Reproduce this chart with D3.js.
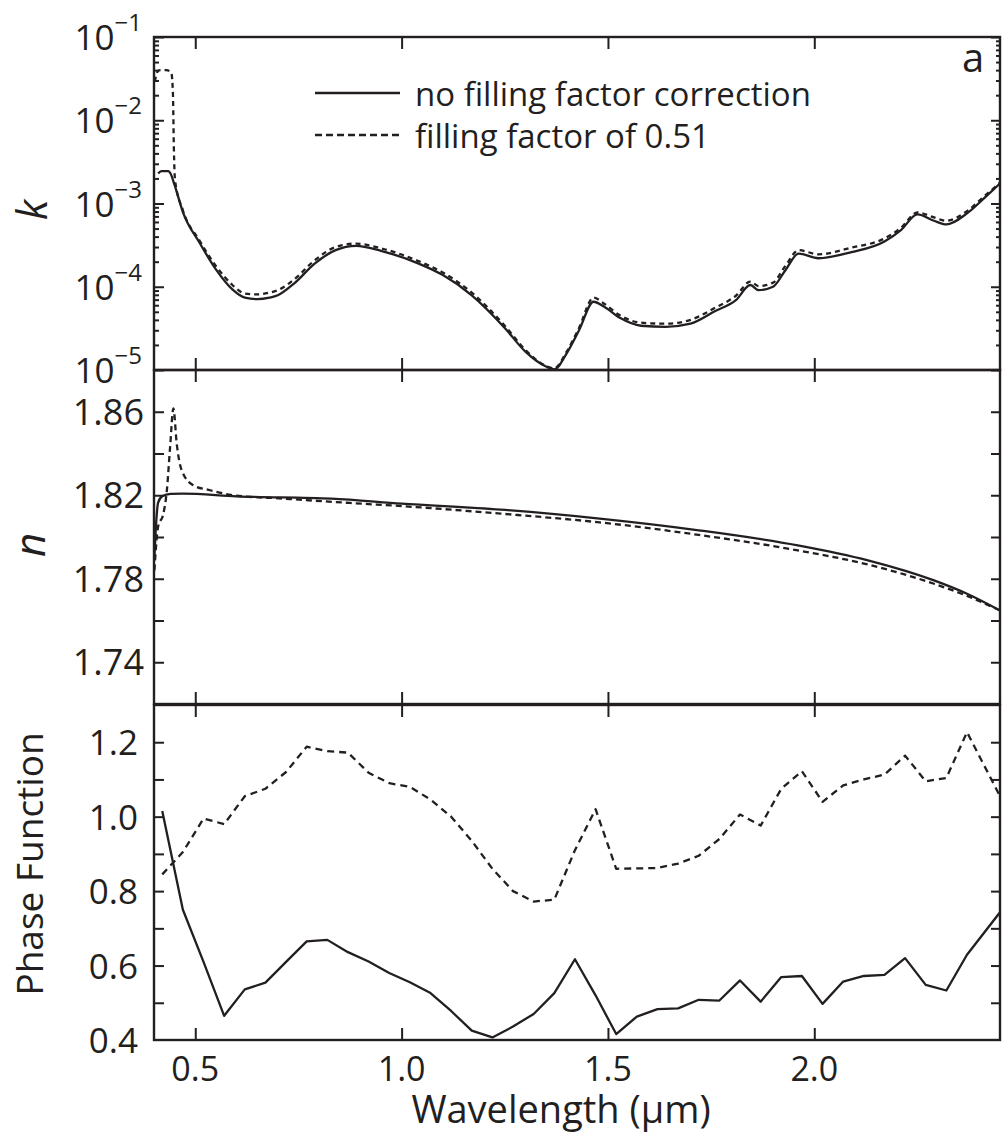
<!DOCTYPE html>
<html><head><meta charset="utf-8">
<script src="https://cdn.jsdelivr.net/npm/d3@7"></script>
<style>
html,body{margin:0;padding:0;background:#fff;}
svg{display:block;}
text{font-family:"Open Sans",sans-serif;fill:#231f20;}
</style></head><body>
<svg id="chart" width="1004" height="1136"></svg>
<script>
// ---- Imaginary index k (log scale) ----
const kWlSolid = [0.410,0.418,0.435,0.440,0.450,0.470,0.510,0.550,0.590,0.620,0.650,0.680,0.700,0.740,0.790,0.840,0.890,0.950,1.040,1.100,1.170,1.250,1.300,1.350,1.370,1.400,1.430,1.465,1.490,1.530,1.580,1.640,1.700,1.760,1.810,1.845,1.865,1.900,1.930,1.962,2.010,2.090,2.170,2.210,2.250,2.290,2.320,2.370,2.415,2.450];
const kSolid = [2.29e-3,2.45e-3,2.45e-3,2.29e-3,1.66e-3,7.9e-4,3.4e-4,1.62e-4,9.3e-5,7.4e-5,7.1e-5,7.4e-5,7.9e-5,1.10e-4,1.91e-4,2.75e-4,3.1e-4,2.7e-4,1.91e-4,1.38e-4,7.9e-5,3.2e-5,1.66e-5,1.10e-5,1.02e-5,1.58e-5,3.0e-5,6.6e-5,5.8e-5,4.2e-5,3.4e-5,3.3e-5,3.6e-5,5.1e-5,6.9e-5,1.05e-4,9.1e-5,1.0e-4,1.58e-4,2.5e-4,2.2e-4,2.6e-4,3.5e-4,4.8e-4,7.4e-4,6.2e-4,5.6e-4,7.6e-4,1.20e-3,1.74e-3];

const kWlDashed = [0.402,0.408,0.415,0.430,0.442,0.446,0.448,0.451,0.470,0.510,0.550,0.590,0.620,0.650,0.680,0.700,0.740,0.790,0.840,0.890,0.950,1.040,1.100,1.170,1.250,1.300,1.350,1.370,1.400,1.430,1.465,1.490,1.530,1.580,1.640,1.700,1.760,1.810,1.845,1.865,1.900,1.930,1.962,2.010,2.090,2.170,2.210,2.250,2.290,2.320,2.370,2.415,2.450];
const kDashed = [2.9e-2,3.8e-2,4.0e-2,4.0e-2,3.7e-2,2.0e-2,5.0e-3,1.9e-3,8.3e-4,3.6e-4,1.78e-4,1.05e-4,8.3e-5,8.1e-5,8.5e-5,9.1e-5,1.23e-4,2.09e-4,3.0e-4,3.3e-4,2.9e-4,2.04e-4,1.48e-4,8.5e-5,3.4e-5,1.74e-5,1.12e-5,1.05e-5,1.66e-5,3.2e-5,7.4e-5,6.3e-5,4.5e-5,3.7e-5,3.6e-5,4.0e-5,5.6e-5,7.8e-5,1.15e-4,1.02e-4,1.12e-4,1.78e-4,2.75e-4,2.45e-4,2.95e-4,3.8e-4,5.1e-4,7.8e-4,6.8e-4,6.2e-4,8.1e-4,1.26e-3,1.78e-3];

// ---- Real index n ----
const nWlSolid = [0.401,0.405,0.410,0.420,0.440,0.470,0.600,0.830,1.000,1.240,1.480,1.720,1.960,2.130,2.290,2.370,2.450];
const nSolid = [1.790,1.806,1.8165,1.8195,1.8207,1.8208,1.8195,1.8184,1.8160,1.8131,1.8088,1.8032,1.7960,1.7888,1.7792,1.7728,1.7648];
const nWlDashed = [0.401,0.410,0.4225,0.431,0.439,0.447,0.455,0.467,0.495,0.536,0.592,0.713,0.875,1.000,1.240,1.480,1.720,1.960,2.130,2.290,2.370,2.450];
const nDashed = [1.784,1.805,1.811,1.822,1.843,1.8616,1.8448,1.832,1.8248,1.8224,1.8200,1.8184,1.8163,1.8148,1.8112,1.8070,1.8010,1.7936,1.7868,1.7776,1.7718,1.7648];

// ---- Phase function ----
const phaseWl = [0.42,0.47,0.52,0.57,0.62,0.67,0.72,0.77,0.82,0.87,0.92,0.97,1.02,1.07,1.12,1.17,1.22,1.27,1.32,1.37,1.42,1.47,1.52,1.57,1.62,1.67,1.72,1.77,1.82,1.87,1.92,1.97,2.02,2.07,2.12,2.17,2.22,2.27,2.32,2.37,2.45];
const phaseSolid = [1.015,0.75,0.61,0.465,0.536,0.554,0.61,0.665,0.669,0.636,0.611,0.58,0.555,0.526,0.478,0.425,0.407,0.436,0.47,0.526,0.617,0.52,0.416,0.463,0.483,0.485,0.508,0.506,0.56,0.503,0.569,0.572,0.497,0.557,0.572,0.575,0.62,0.548,0.533,0.629,0.743];
const phaseDashed = [0.845,0.905,0.995,0.98,1.055,1.075,1.12,1.188,1.176,1.172,1.118,1.09,1.08,1.046,1.0,0.935,0.86,0.80,0.772,0.777,0.91,1.02,0.86,0.861,0.862,0.874,0.895,0.94,1.006,0.976,1.075,1.122,1.04,1.084,1.10,1.113,1.164,1.095,1.104,1.227,1.055];

// ---- Axis ticks and labels ----
const xTicks = [0.5, 1.0, 1.5, 2.0];
const kMajor = [1e-1, 1e-2, 1e-3, 1e-4, 1e-5];
const kExponents = [-1, -2, -3, -4, -5];
const nTicks = [1.72, 1.74, 1.76, 1.78, 1.80, 1.82, 1.84, 1.86, 1.88];
const nLabels = [1.74, 1.78, 1.82, 1.86];
const pTicks = [0.4, 0.5, 0.6, 0.7, 0.8, 0.9, 1.0, 1.1, 1.2, 1.3];
const pLabels = [0.4, 0.6, 0.8, 1.0, 1.2];
const legendLabels = ["no filling factor correction", "filling factor of 0.51"];

const INK = "#231f20";
const svg = d3.select("#chart");
const L = 154, R = 1000;
const panels = {
  k: {top: 37, bottom: 370},
  n: {top: 370, bottom: 704},
  p: {top: 705, bottom: 1040}
};

const x = d3.scaleLinear().domain([0.4, 2.45]).range([L, R]);
const yK = d3.scaleLog().domain([1e-5, 1e-1]).range([panels.k.bottom, panels.k.top]);
const yN = d3.scaleLinear().domain([1.72, 1.88]).range([panels.n.bottom, panels.n.top]);
const yP = d3.scaleLinear().domain([0.4, 1.3]).range([panels.p.bottom, panels.p.top]);

// minor decade ticks for the log axis
const kMinor = [];
[-5, -4, -3, -2].forEach(e => { for (let m = 2; m <= 9; m++) kMinor.push(m * Math.pow(10, e)); });

const defs = svg.append("defs");
Object.entries(panels).forEach(([id, p]) => {
  defs.append("clipPath").attr("id", "clip-" + id)
    .append("rect").attr("x", L).attr("y", p.top).attr("width", R - L).attr("height", p.bottom - p.top);
});

function styleAxis(g) {
  g.select(".domain").remove();
  g.selectAll(".tick line").attr("stroke", INK).attr("stroke-width", 2);
  g.selectAll(".tick text").remove();
}

function xAxes(p) {
  svg.append("g").attr("transform", `translate(0,${p.top})`)
    .call(d3.axisTop(x).tickValues(xTicks).tickSize(-12)).call(styleAxis);
  svg.append("g").attr("transform", `translate(0,${p.bottom})`)
    .call(d3.axisBottom(x).tickValues(xTicks).tickSize(-12)).call(styleAxis);
}
function yAxes(scale, values, size) {
  svg.append("g").attr("transform", `translate(${L},0)`)
    .call(d3.axisLeft(scale).tickValues(values).tickSize(-size)).call(styleAxis);
  svg.append("g").attr("transform", `translate(${R},0)`)
    .call(d3.axisRight(scale).tickValues(values).tickSize(-size + 1)).call(styleAxis);
}

// ticks
Object.values(panels).forEach(xAxes);
yAxes(yK, kMajor, 10);
yAxes(yK, kMinor, 5);
yAxes(yN, nTicks.slice(1, -1), 10);
yAxes(yP, pTicks.slice(1, -1), 10);

// curves
const lineLog = (wl, v) => d3.line().curve(d3.curveMonotoneX)
  .x((d, i) => x(wl[i])).y((d, i) => yK(v[i]))(v);
const lineN = (wl, v) => d3.line().curve(d3.curveMonotoneX)
  .x((d, i) => x(wl[i])).y((d, i) => yN(v[i]))(v);
const lineP = (wl, v) => d3.line()
  .x((d, i) => x(wl[i])).y((d, i) => yP(v[i]))(v);

function curve(d, clip, dash) {
  svg.append("path").attr("d", d).attr("clip-path", `url(#clip-${clip})`)
    .attr("fill", "none").attr("stroke", INK).attr("stroke-width", 2.3)
    .attr("stroke-linejoin", "round")
    .attr("stroke-dasharray", dash || null);
}
curve(lineLog(kWlDashed, kDashed), "k", "5,4");
curve(lineLog(kWlSolid, kSolid), "k");
curve(lineN(nWlDashed, nDashed), "n", "6,4");
curve(lineN(nWlSolid, nSolid), "n");
curve(lineP(phaseWl, phaseDashed), "p", "7,5");
curve(lineP(phaseWl, phaseSolid), "p");

// frames
Object.values(panels).forEach(p => {
  svg.append("rect").attr("x", L).attr("y", p.top).attr("width", R - L).attr("height", p.bottom - p.top)
    .attr("fill", "none").attr("stroke", INK).attr("stroke-width", 2.4);
});

// y tick labels: log panel
kMajor.forEach((v, i) => {
  const t = svg.append("text").attr("x", 142).attr("y", yK(v) + 13)
    .attr("text-anchor", "end").style("font-size", "35px");
  t.append("tspan").text("10");
  t.append("tspan").attr("dy", -19).style("font-size", "24px").text("\u2212" + Math.abs(kExponents[i]));
});
nLabels.forEach(v => {
  svg.append("text").attr("x", 144).attr("y", yN(v) + 13).attr("text-anchor", "end")
    .style("font-size", "36px").text(d3.format(".2f")(v));
});
pLabels.forEach(v => {
  svg.append("text").attr("x", 138).attr("y", yP(v) + 13).attr("text-anchor", "end")
    .style("font-size", "35px").text(d3.format(".1f")(v));
});
xTicks.forEach(v => {
  svg.append("text").attr("x", x(v)).attr("y", 1081).attr("text-anchor", "middle")
    .style("font-size", "34px").text(d3.format(".1f")(v));
});

// axis titles
svg.append("text").attr("transform", "translate(47,210) rotate(-90)").attr("text-anchor", "middle")
  .style("font-size", "42px").style("font-style", "italic").text("k");
svg.append("text").attr("transform", "translate(45,545) rotate(-90)").attr("text-anchor", "middle")
  .style("font-size", "42px").style("font-style", "italic").text("n");
svg.append("text").attr("transform", "translate(43,864) rotate(-90)").attr("text-anchor", "middle")
  .style("font-size", "37px").text("Phase Function");
svg.append("text").attr("x", 561).attr("y", 1123).attr("text-anchor", "middle")
  .style("font-size", "38px").text("Wavelength (\u00b5m)");

// panel letter
svg.append("text").attr("x", 962).attr("y", 72).style("font-size", "40px").text("a");

// legend
const legendY = [93, 135];
legendLabels.forEach((lab, i) => {
  svg.append("line").attr("x1", 315).attr("x2", 400).attr("y1", legendY[i]).attr("y2", legendY[i])
    .attr("stroke", INK).attr("stroke-width", 2.3).attr("stroke-dasharray", i ? "7,4" : null);
  svg.append("text").attr("x", 415).attr("y", legendY[i] + 13).style("font-size", "33px").text(lab);
});
</script></body></html>
